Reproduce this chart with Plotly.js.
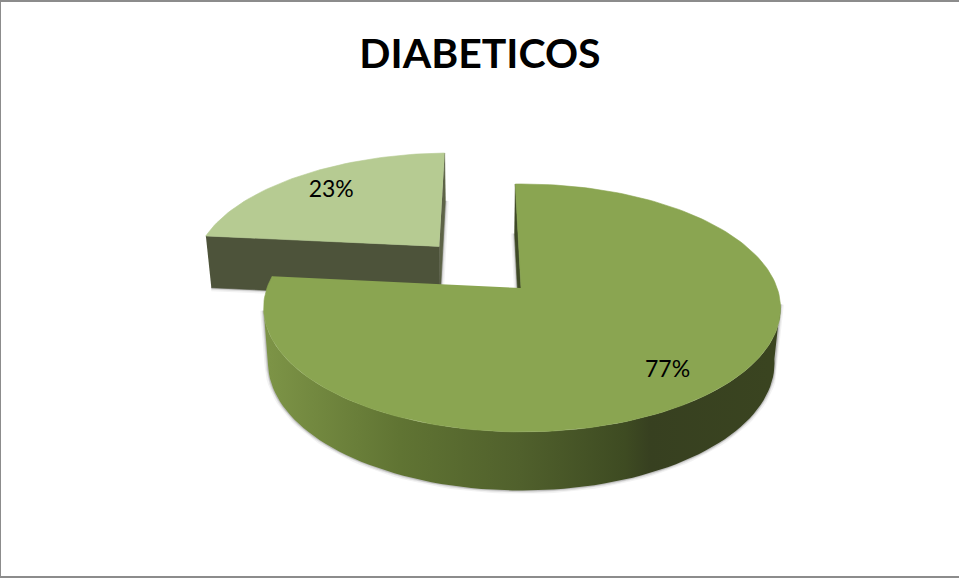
<!DOCTYPE html>
<html>
<head>
<meta charset="utf-8">
<script src="https://cdn.plot.ly/plotly-3.0.1.min.js"></script>
<style>html,body{margin:0;padding:0;background:#fff}#chart{width:959px;height:578px}</style>
</head>
<body>
<div id="chart"></div>
<script>
// Chart content
const chartTitle = 'DIABETICOS';
const sliceNames = ['SI', 'NO'];
const sliceValues = [77, 23];
const sliceLabels = ['77%', '23%'];

// Colours
const topColors = ['#8AA551', '#B6CB92'];
const smallWallColor = '#4D533A';
const innerWallColor = '#3F4A26';
const rimPositions = [0, 0.26, 0.5, 0.71, 0.76, 1];
const rimColors = ['#7C9346', '#607433', '#50602C', '#3E4B22', '#374020', '#3A4420'];

// Projection of the tilted disc: depth is in radius units, far side positive
const apexX = 521, apexY = 288, radius = 255;
const vanishX = 480, depthScale = 120.8, perspective = 0.161, roll = 0.012;
const thickness = 54, baseShrink = 0.98, explode = 122;
const labelRadius = [0.805, 0.76];
const labelTurn = [3, 0];
const rimStart = 99, rimEnd = 261;

function project(worldX, depth) {
  const w = 1 + perspective * depth;
  const sx = vanishX + (worldX - vanishX) / w;
  return [sx, apexY - depthScale * depth / w + roll * (apexX - sx), depth];
}
function lower(p) {
  return [vanishX + (p[0] - vanishX) * baseShrink, p[1] + thickness * (1 - 0.085 * p[2])];
}
// Angles run clockwise from the far side of the disc
function rimPoint(cx, cd, deg) {
  const a = deg * Math.PI / 180;
  return project(cx + radius * Math.sin(a), cd + Math.cos(a));
}
function range(a, b, step) {
  const out = [];
  for (let t = a; t < b; t += step) out.push(t);
  out.push(b);
  return out;
}
function poly(points, color) {
  return {
    type: 'scatter', mode: 'lines', hoverinfo: 'skip', showlegend: false,
    x: points.map(p => p[0]), y: points.map(p => p[1]),
    fill: 'toself', fillcolor: color, line: {color: color, width: 0.6}
  };
}
function soft(points) {
  return [[7, 'rgba(0,0,0,0.05)'], [4, 'rgba(0,0,0,0.09)'], [2, 'rgba(0,0,0,0.14)']].map(s => ({
    type: 'scatter', mode: 'lines', hoverinfo: 'skip', showlegend: false,
    x: points.map(p => p[0]), y: points.map(p => p[1]),
    line: {color: s[1], width: s[0]}
  }));
}

const total = sliceValues[0] + sliceValues[1];
const bigSweep = sliceValues[0] / total * 360;
const smallMid = (bigSweep + 360) / 2;

// The smaller slice is pulled out along its bisector
const smallRad = smallMid * Math.PI / 180;
const smallX = apexX + explode * Math.sin(smallRad) - 3.5;
const smallD = explode * Math.cos(smallRad) / radius + 0.015;

const bigArc = range(0, bigSweep, 1.5).map(t => rimPoint(apexX, 0, t));
const smallArc = range(bigSweep, 360, 1.5).map(t => rimPoint(smallX, smallD, t));
const bigApex = project(apexX, 0);
const smallApex = project(smallX, smallD);

const traces = [];

// Smaller slice: shadow, walls, then the top face
const smallFar = rimPoint(smallX, smallD, 360);
const smallCorner = rimPoint(smallX, smallD, bigSweep);
traces.push(...soft([lower(smallCorner), lower(smallApex), lower(smallFar)]));
traces.push(poly([smallApex, smallFar, lower(smallFar), lower(smallApex)], '#5d6347'));
traces.push(poly([smallCorner, smallApex, lower(smallApex), lower(smallCorner)], smallWallColor));
traces.push(poly([smallApex].concat(smallArc), topColors[1]));

// Larger slice: shadow, inner wall, gradient rim, then the top face.
// The rim runs between the two silhouette tangents so its outline never crosses itself.
const bigFar = rimPoint(apexX, 0, 0);
traces.push(...soft([lower(bigFar), lower(bigApex)]));
traces.push(poly([bigApex, bigFar, lower(bigFar), lower(bigApex)], innerWallColor));
const rimUpper = range(rimStart, rimEnd, 2).map(t => rimPoint(apexX, 0, t));
const rimLower = rimUpper.map(lower);
traces.push(...soft([rimUpper[0]].concat(rimLower, [rimUpper[rimUpper.length - 1]])));
const rimOutline = rimUpper.concat(rimLower.slice().reverse());
traces.push({
  type: 'scatter', mode: 'lines', hoverinfo: 'skip', showlegend: false,
  x: rimOutline.map(p => p[0]), y: rimOutline.map(p => p[1]),
  fill: 'toself', line: {width: 0},
  fillgradient: {
    type: 'horizontal', start: 270, stop: 770,
    colorscale: rimPositions.map((p, i) => [p, rimColors[i]])
  }
});
traces.push(poly([bigApex].concat(bigArc), topColors[0]));

// Percentage labels sit near each slice's bisector
const bigRad = (bigSweep / 2 + labelTurn[0]) * Math.PI / 180;
const smallLabelRad = smallRad + labelTurn[1] * Math.PI / 180;
const labelPoints = [
  project(apexX + labelRadius[0] * radius * Math.sin(bigRad), labelRadius[0] * Math.cos(bigRad)),
  project(smallX + labelRadius[1] * radius * Math.sin(smallLabelRad), smallD + labelRadius[1] * Math.cos(smallLabelRad))
];
traces.push({
  type: 'scatter', mode: 'text', hoverinfo: 'skip', showlegend: false,
  x: labelPoints.map(p => p[0]), y: labelPoints.map(p => p[1]),
  text: sliceLabels, textposition: 'middle center',
  textfont: {family: 'Lato, sans-serif', size: 23, color: '#000'}
});

const layout = {
  width: 959, height: 578,
  margin: {l: 0, r: 0, t: 0, b: 0},
  paper_bgcolor: '#fff', plot_bgcolor: '#fff',
  showlegend: false,
  title: {
    text: '<b>' + chartTitle + '</b>',
    x: 0.5005, xanchor: 'center', y: 0.908, yanchor: 'middle',
    font: {family: 'Lato, sans-serif', size: 41, color: '#000'}
  },
  xaxis: {range: [0, 959], visible: false, fixedrange: true},
  yaxis: {range: [578, 0], visible: false, fixedrange: true},
  shapes: [
    {type: 'rect', xref: 'x', yref: 'y', x0: 0, x1: 959, y0: 0, y1: 2, fillcolor: '#8c8c8c', line: {width: 0}},
    {type: 'rect', xref: 'x', yref: 'y', x0: 0, x1: 1, y0: 0, y1: 578, fillcolor: '#8c8c8c', line: {width: 0}},
    {type: 'rect', xref: 'x', yref: 'y', x0: 0, x1: 959, y0: 576, y1: 578, fillcolor: '#8c8c8c', line: {width: 0}}
  ]
};
Plotly.newPlot('chart', traces, layout, {displayModeBar: false, staticPlot: true});
</script>
</body>
</html>
